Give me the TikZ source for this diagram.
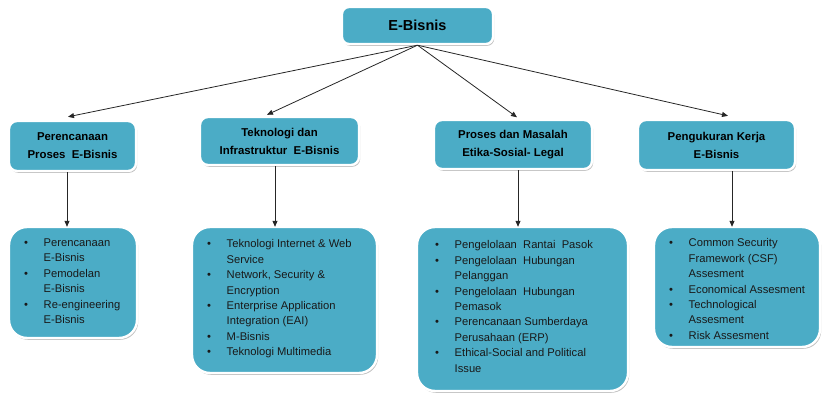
\documentclass[tikz,border=0pt]{standalone}
\usepackage{fontspec}
\setmainfont{Liberation Sans}
\usetikzlibrary{arrows.meta,shadows,calc}
\definecolor{aqua}{HTML}{4BACC6}
\newcommand{\blt}{\makebox[19.5pt][l]{\textbullet}}
\newcommand{\ind}{\hspace*{19.5pt}}
\begin{document}
\begin{tikzpicture}[x=1pt,y=-1pt,
  card/.style={draw=white,line width=2.4pt,fill=aqua,
    drop shadow={shadow xshift=1.2pt,shadow yshift=-1.8pt,fill=black!55,opacity=0.45},
    inner sep=0pt,align=center,text=black},
  headbox/.style={card,rounded corners=8pt,font=\fontsize{11.4}{18}\selectfont\bfseries},
  listbox/.style={card,rounded corners=18pt},
  listtext/.style={anchor=north west,inner sep=0pt,align=left,
    font=\fontsize{11.2}{15.4}\selectfont,text=black!90},
  arr/.style={draw=black!85,line width=0.8pt,-{Triangle[length=6pt,width=5pt]}}]
\useasboundingbox (0,0) rectangle (824,395);

% top node
\node[card,rounded corners=7pt,minimum width=151pt,minimum height=37pt,
  font=\fontsize{14.5}{17}\selectfont\bfseries] (T) at (417.5,25.5) {E-Bisnis};

% second level
\node[headbox,minimum width=127pt,minimum height=50pt] (H1) at (72.5,146)
  {Perencanaan\\Proses\ \ E-Bisnis};
\node[headbox,minimum width=159pt,minimum height=48pt] (H2) at (279.5,141)
  {Teknologi dan\\Infrastruktur\ \ E-Bisnis};
\node[headbox,minimum width=158pt,minimum height=49pt] (H3) at (513,144.5)
  {Proses dan Masalah\\Etika-Sosial- Legal};
\node[headbox,minimum width=157pt,minimum height=50pt] (H4) at (716.5,145)
  {Pengukuran Kerja\\E-Bisnis};

% lists
\node[listbox,minimum width=128pt,minimum height=111pt] (L1) at (73,282.5) {};
\node[listbox,minimum width=185pt,minimum height=146pt] (L2) at (284.5,300) {};
\node[listbox,minimum width=211pt,minimum height=164pt] (L3) at (522.5,309) {};
\node[listbox,minimum width=166pt,minimum height=120pt] (L4) at (737,287) {};

\node[listtext] (t1) at (24,238.6)
  {\blt Perencanaan\\\ind E-Bisnis\\\blt Pemodelan\\\ind E-Bisnis\\
   \blt Re-engineering\\\ind E-Bisnis};
\node[listtext] (t2) at (207,239.6)
  {\blt Teknologi Internet \& Web\\\ind Service\\
   \blt Network, Security \&\\\ind Encryption\\
   \blt Enterprise Application\\\ind Integration (EAI)\\
   \blt M-Bisnis\\\blt Teknologi Multimedia};
\node[listtext] (t3) at (435,240.6)
  {\blt Pengelolaan\ \ Rantai\ \ Pasok\\
   \blt Pengelolaan\ \ Hubungan\\\ind Pelanggan\\
   \blt Pengelolaan\ \ Hubungan\\\ind Pemasok\\
   \blt Perencanaan Sumberdaya\\\ind Perusahaan (ERP)\\
   \blt Ethical-Social and\ Political\\\ind Issue};
\node[listtext] (t4) at (669,238.6)
  {\blt Common Security\\\ind Framework (CSF)\\\ind Assesment\\
   \blt Economical Assesment\\
   \blt Technological\\\ind Assesment\\
   \blt Risk Assesment};

% connectors
\draw[arr] (T.south) -- ($(H1.north)+(-4.5,-3)$);
\draw[arr] (T.south) -- ($(H2.north)+(-12.5,-1)$);
\draw[arr] (T.south) -- ($(H3.north)+(4,-1.5)$);
\draw[arr] (T.south) -- ($(H4.north)+(11.5,-3)$);

\draw[arr] ($(H1.south)+(-5.5,0)$) -- ($(L1.north)+(-6,1)$);
\draw[arr] ($(H2.south)+(-4.5,0)$) -- ($(L2.north)+(-9.5,1)$);
\draw[arr] ($(H3.south)+(5,0)$) -- ($(L3.north)+(-4.5,1)$);
\draw[arr] ($(H4.south)+(15.5,0)$) -- ($(L4.north)+(-5,1)$);
\end{tikzpicture}
\end{document}
